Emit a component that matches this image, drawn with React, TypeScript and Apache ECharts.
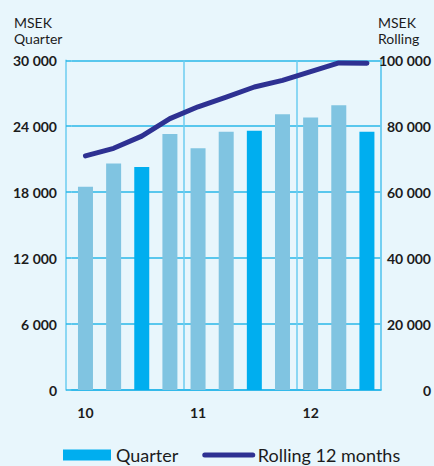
import React, { useEffect, useRef } from "react";
import * as echarts from "echarts";

const quarters = ["10 Q1", "10 Q2", "10 Q3", "10 Q4", "11 Q1", "11 Q2", "11 Q3", "11 Q4", "12 Q1", "12 Q2", "12 Q3"];
const quarterSales = [18500, 20600, 20300, 23300, 22000, 23500, 23600, 25100, 24800, 25900, 23500];
const rolling12 = [71000, 73300, 77000, 82300, 85900, 88800, 91900, 93900, 96600, 99200, 99100];
const leftTicks = { min: 0, max: 30000, interval: 6000 };
const rightTicks = { min: 0, max: 100000, interval: 20000 };

const BG = "#E8F6FC";
const GRID = "#2AB7E9";
const BORDER = "#6CCDF0";
const LIGHT_BAR = "#80C4E1";
const DARK_BAR = "#00AEEF";
const LINE = "#2E3192";
const TEXT = "#1c1c1c";
const FONT = "Lato, 'Open Sans', sans-serif";

const fmt = (v: number) => String(v).replace(/\B(?=(\d{3})+(?!\d))/g, " ");

export default function App() {
  const ref = useRef<HTMLDivElement>(null);
  useEffect(() => {
    if (!ref.current) return;
    const chart = echarts.init(ref.current, null, { renderer: "svg" });
    chart.setOption({
      animation: false,
      backgroundColor: BG,
      textStyle: { fontFamily: FONT },
      grid: { left: 71.4, right: 52.4, top: 60.3, bottom: 76, containLabel: false },
      legend: {
        left: 63,
        top: 446,
        padding: 0,
        itemWidth: 48,
        itemHeight: 11,
        itemGap: 24,
        itemTextGap: 11,
        textStyle: { fontSize: 18, color: TEXT, fontFamily: FONT },
        data: [
          { name: "Quarter", icon: "rect" },
          {
            name: "Rolling 12 months",
            itemStyle: { opacity: 0 },
            lineStyle: { color: LINE, width: 5, cap: "round" },
          },
        ],
      },
      graphic: [
        {
          type: "text",
          left: 14,
          top: 14,
          style: { text: "MSEK\nQuarter", fontSize: 14, lineHeight: 16, fill: TEXT, fontFamily: FONT },
        },
        {
          type: "text",
          left: 378,
          top: 14,
          style: { text: "MSEK\nRolling", fontSize: 14, lineHeight: 16, fill: TEXT, fontFamily: FONT },
        },
      ],
      xAxis: {
        type: "category",
        data: quarters,
        boundaryGap: true,
        axisLine: { show: true, lineStyle: { color: GRID, width: 1.5 } },
        axisTick: { show: false },
        splitLine: {
          show: true,
          interval: (index: number) => index === 4 || index === 8,
          lineStyle: { color: BORDER, width: 1.5 },
        },
        axisLabel: {
          interval: 0,
          margin: 15,
          fontSize: 14,
          fontWeight: "bold",
          color: TEXT,
          fontFamily: FONT,
          formatter: (v: string) => (v.endsWith("Q1") ? v.split(" ")[0] : ""),
        },
      },
      yAxis: [
        {
          type: "value",
          ...leftTicks,
          offset: 5.4,
          axisLine: { show: true, lineStyle: { color: BORDER, width: 1.5 } },
          axisTick: { show: true, inside: true, length: 5.4, lineStyle: { color: GRID, width: 1.5 } },
          splitLine: { show: true, lineStyle: { color: GRID, width: 1.5 } },
          axisLabel: {
            margin: 9,
            fontSize: 14,
            fontWeight: "bold",
            color: TEXT,
            fontFamily: FONT,
            formatter: (v: number) => fmt(v),
          },
        },
        {
          type: "value",
          ...rightTicks,
          position: "right",
          axisLine: { show: true, lineStyle: { color: BORDER, width: 1.5 } },
          axisTick: { show: false },
          splitLine: { show: false },
          axisLabel: {
            margin: 50,
            align: "right",
            fontSize: 14,
            fontWeight: "bold",
            color: TEXT,
            fontFamily: FONT,
            formatter: (v: number) => fmt(v),
          },
        },
      ],
      series: [
        {
          name: "Quarter",
          type: "bar",
          yAxisIndex: 0,
          barWidth: 15,
          itemStyle: { color: DARK_BAR },
          data: quarterSales.map((v, i) => ({
            value: v,
            itemStyle: { color: quarters[i].endsWith("Q3") ? DARK_BAR : LIGHT_BAR },
          })),
        },
        {
          name: "Rolling 12 months",
          type: "line",
          yAxisIndex: 1,
          data: rolling12,
          symbol: "none",
          lineStyle: { color: LINE, width: 5, cap: "round", join: "round" },
          itemStyle: { color: LINE },
        },
      ],
    });
    return () => chart.dispose();
  }, []);
  return (
    <div
      ref={ref}
      style={{ position: "absolute", left: 0, top: 0, width: 434, height: 466 }}
    />
  );
}
